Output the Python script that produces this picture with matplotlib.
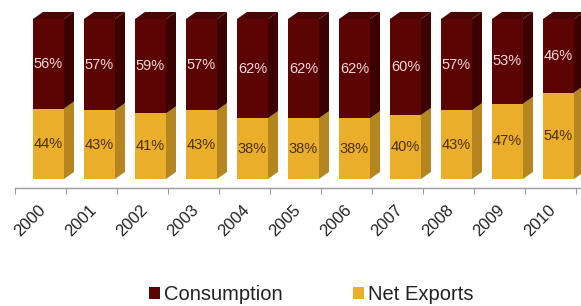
import matplotlib
matplotlib.use("Agg")
import matplotlib.pyplot as plt
from matplotlib.patches import Polygon, Patch

years = ["2000", "2001", "2002", "2003", "2004", "2005", "2006", "2007", "2008", "2009", "2010"]
consumption = [56, 57, 59, 57, 62, 62, 62, 60, 57, 53, 46]
net_exports = [44, 43, 41, 43, 38, 38, 38, 40, 43, 47, 54]

plt.rcParams['font.family'] = ['Liberation Sans', 'DejaVu Sans']

#colours for front / side / top faces
cons_front, cons_side, cons_top = "#5c0404", "#3c0202", "#4a0404"
exp_front, exp_side = "#ebae2b", "#b5861f"

fig = plt.figure(figsize=(5.81, 3.06), dpi=100)
ax = fig.add_axes([0.0258, 0.3856, 0.9742, 0.585])

off = 0.353   # front face left edge inside each category
w = 0.608     # front face width
dx = 0.196    # depth of the fake 3d side
dy = 0.044

for i in range(len(years)):
    x0 = i + off
    e = net_exports[i] / 100
    c = consumption[i] / 100
    ax.bar(x0, e, width=w, bottom=0, align='edge', color=exp_front, linewidth=0)
    ax.bar(x0, c, width=w, bottom=e, align='edge', color=cons_front, linewidth=0)
    #side faces
    ax.add_patch(Polygon([(x0+w, 0), (x0+w+dx, dy), (x0+w+dx, e+dy), (x0+w, e)],
                         closed=True, color=exp_side, linewidth=0))
    ax.add_patch(Polygon([(x0+w, e), (x0+w+dx, e+dy), (x0+w+dx, e+c+dy), (x0+w, e+c)],
                         closed=True, color=cons_side, linewidth=0))
    #top face
    ax.add_patch(Polygon([(x0, e+c), (x0+w, e+c), (x0+w+dx, e+c+dy), (x0+dx, e+c+dy)],
                         closed=True, color=cons_top, linewidth=0))
    ax.text(x0 + w/2, e/2, "%d%%" % net_exports[i], ha='center', va='center',
            fontsize=10.5, color="#4a3000")
    ax.text(x0 + w/2, e + c/2, "%d%%" % consumption[i], ha='center', va='center',
            fontsize=10.5, color="#f3dada")

ax.set_xlim(0, len(years) + 0.098)
ax.set_ylim(-0.05625, 1.0625)
for s in ['top', 'right', 'left']:
    ax.spines[s].set_visible(False)
ax.spines['bottom'].set_color("#9a9a9a")
ax.spines['bottom'].set_linewidth(1.0)
ax.set_yticks([])

ax.set_xticks(range(len(years) + 1))
ax.set_xticklabels([])
ax.tick_params(axis='x', which='major', length=4.5, color="#9a9a9a", direction='out')
ax.set_xticks([i + 0.55 for i in range(len(years))], minor=True)
ax.set_xticklabels(years, minor=True, rotation=45, ha='right', va='center',
                   rotation_mode='anchor', fontsize=12, color="#222222")
ax.tick_params(axis='x', which='minor', length=0, pad=14)

handles = [Patch(facecolor=cons_front, label="Consumption"),
           Patch(facecolor=exp_front, label="Net Exports")]
fig.legend(handles=handles, loc='center', bbox_to_anchor=(0.536, 0.038), ncol=2,
           frameon=False, fontsize=14.5, handlelength=0.55, handleheight=0.55,
           handletextpad=0.2, columnspacing=3.5, labelcolor="#222222")

fig.savefig("out.png", dpi=100)
